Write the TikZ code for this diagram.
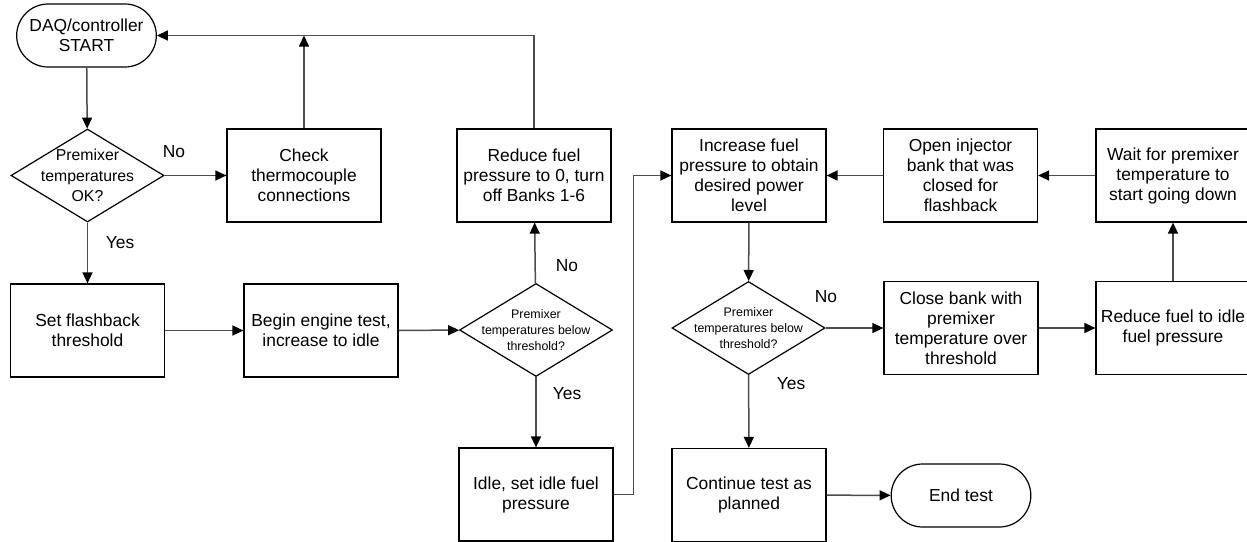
\documentclass[tikz,border=0pt]{standalone}
\usepackage{fontspec}
\setmainfont{Liberation Sans}
\usetikzlibrary{shapes.geometric,shapes.misc,arrows.meta}

\begin{document}
\begin{tikzpicture}[x=0.5pt,y=-0.5pt,
    box/.style={draw,rectangle,line width=0.6pt,minimum width=77pt,minimum height=46.5pt,
        inner sep=1pt,align=center,font=\fontsize{8.7}{10}\selectfont},
    decision/.style={draw,diamond,line width=0.6pt,aspect=1.645,inner sep=-8pt,
        minimum width=76.5pt,minimum height=46.5pt,align=center},
    terminal/.style={draw,rounded rectangle,line width=0.6pt,minimum width=76.5pt,
        minimum height=31.5pt,align=center,font=\fontsize{8.7}{10}\selectfont},
    flow/.style={draw=black!70,line width=0.75pt,-{Triangle[length=5.5pt,width=5pt,color=black]}},
    answer/.style={font=\fontsize{8.7}{10}\selectfont}]
                        \useasboundingbox (0,0) rectangle (1247,541);
                        \node [terminal] (start) at (86.5,35.5) {DAQ/controller\\START};
                        \node [decision,font=\fontsize{7.9}{10.2}\selectfont] (tempok) at (87.5,175.5) {Premixer\\temperatures\\OK?};
                        \node [box] (check) at (304,175.5) {Check\\thermocouple\\connections};
                        \node [box] (reducezero) at (534,175.5) {Reduce fuel\\pressure to 0, turn\\off Banks 1-6};
                        \node [box] (increase) at (749,175.5) {Increase fuel\\pressure to obtain\\desired power\\level};
                        \node [box] (openbank) at (960.5,175.5) {Open injector\\bank that was\\closed for\\flashback};
                        \node [box] (wait) at (1173,175.5) {Wait for premixer\\temperature to\\start going down};
                        \node [box] (setthresh) at (87.5,330.5) {Set flashback\\threshold};
                        \node [box] (begintest) at (321,330.5) {Begin engine test,\\increase to idle};
                        \node [decision,font=\fontsize{6.2}{8}\selectfont] (belowone) at (536,330) {Premixer\\temperatures below\\threshold?};
                        \node [box] (idle) at (536,494.5) {Idle, set idle fuel\\pressure};
                        \node [decision,font=\fontsize{6.2}{8}\selectfont] (belowtwo) at (748.5,328) {Premixer\\temperatures below\\threshold?};
                        \node [box] (closebank) at (961,328) {Close bank with\\premixer\\temperature over\\threshold};
                        \node [box] (reduceidle) at (1173,328) {Reduce fuel to idle\\fuel pressure};
                        \node [box] (continue) at (749,495) {Continue test as\\planned};
                        \node [terminal] (endtest) at (961,495.5) {End test};
                        \draw [flow] (start)--(tempok);
                        \draw [flow] (tempok)--(check);
                        \draw [flow] (check.north)--(check.north |- start.east);
                        \draw [flow] (reducezero.north) |- (start.east);
                        \draw [flow] (tempok)--(setthresh);
                        \draw [flow] (setthresh)--(begintest);
                        \draw [flow] (begintest)--(belowone);
                        \draw [flow] (belowone)--(reducezero);
                        \draw [flow] (belowone)--(idle);
                        \draw [flow] (idle.east) -- ++(20,0) |- (increase.west);
                        \draw [flow] (increase)--(belowtwo);
                        \draw [flow] (belowtwo)--(closebank);
                        \draw [flow] (closebank)--(reduceidle);
                        \draw [flow] (reduceidle)--(wait);
                        \draw [flow] (wait)--(openbank);
                        \draw [flow] (openbank)--(increase);
                        \draw [flow] (belowtwo)--(continue);
                        \draw [flow] (continue)--(endtest);
                        \node [answer] (nookay) at (174,152) {No};
                        \node [answer] (yesokay) at (120,243) {Yes};
                        \node [answer] (noone) at (567,266) {No};
                        \node [answer] (yesone) at (567,394) {Yes};
                        \node [answer] (notwo) at (826,297) {No};
                        \node [answer] (yestwo) at (791,384) {Yes};
                    \end{tikzpicture}
\end{document}
